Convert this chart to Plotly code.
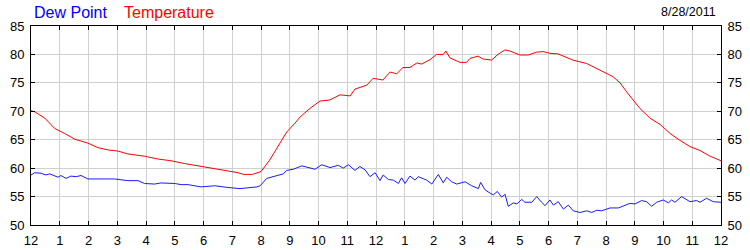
import plotly.graph_objects as go

# Hours since midnight (8/28/2011)
temp_hours = [0.0, 0.13, 0.48, 0.82, 1.17, 1.52, 1.98, 2.33, 2.68, 3.03, 3.37, 3.95, 4.42, 4.87,
              5.35, 5.81, 6.26, 6.74, 6.96, 7.2, 7.4, 7.7, 8.0, 8.3, 8.66, 8.9, 9.18, 9.36, 9.7,
              10.05, 10.4, 10.75, 11.1, 11.27, 11.68, 11.9, 12.24, 12.49, 12.72, 12.94, 13.18,
              13.42, 13.59, 13.88, 14.11, 14.34, 14.43, 14.57, 14.92, 15.15, 15.27, 15.55, 15.72,
              16.02, 16.24, 16.49, 16.66, 17.01, 17.29, 17.59, 17.81, 18.05, 18.33, 18.85, 19.33,
              19.9, 20.24, 20.49, 20.72, 21.18, 21.53, 21.88, 22.23, 22.57, 22.92, 23.27, 23.62, 24.0]
temperature = [70.1, 69.9, 68.8, 67.0, 66.1, 65.1, 64.4, 63.6, 63.2, 63.0, 62.5, 62.1, 61.6, 61.3,
               60.8, 60.4, 60.0, 59.7, 59.4, 59.2, 58.9, 58.9, 59.4, 61.4, 64.4, 66.4, 67.9, 69.0, 70.5,
               71.8, 72.0, 72.9, 72.7, 73.9, 74.6, 75.8, 75.5, 76.9, 76.6, 77.7, 77.7,
               78.5, 78.3, 79.1, 80.0, 80.0, 80.6, 79.4, 78.6, 78.6, 79.3, 79.7, 79.2,
               79.0, 80.0, 80.8, 80.6, 79.9, 79.9, 80.4, 80.5, 80.2, 80.1, 79.0, 78.4,
               77.0, 76.1, 75.0, 73.4, 70.5, 68.8, 67.7, 66.1, 64.9, 63.8, 63.1, 62.1, 61.3]

dew_hours = [0.0, 0.13, 0.35, 0.52, 0.65, 0.82, 0.94, 1.04, 1.22, 1.39, 1.57, 1.74, 1.98, 2.43,
             2.91, 3.37, 3.72, 3.95, 4.3, 4.52, 5.0, 5.22, 5.46, 5.91, 6.39, 6.85, 7.2, 7.27, 7.85,
             7.97, 8.2, 8.43, 8.78, 8.89, 9.12, 9.42, 9.7, 9.88, 10.11, 10.4, 10.69, 10.86, 11.04,
             11.27, 11.44, 11.62, 11.79, 11.97, 12.14, 12.25, 12.43, 12.6, 12.78, 12.89, 13.01,
             13.18, 13.36, 13.47, 13.76, 13.94, 14.17, 14.34, 14.46, 14.63, 14.81, 15.1, 15.33,
             15.56, 15.64, 15.79, 15.97, 16.08, 16.22, 16.37, 16.49, 16.6, 16.78, 16.9, 17.07,
             17.18, 17.42, 17.59, 17.76, 17.88, 18.05, 18.17, 18.34, 18.52, 18.69, 18.86, 19.1,
             19.33, 19.5, 19.68, 19.85, 20.14, 20.43, 20.72, 20.83, 21.01, 21.24, 21.41, 21.59,
             21.76, 21.99, 22.17, 22.28, 22.4, 22.63, 22.92, 23.15, 23.27, 23.5, 23.73, 24.0]
dew_point = [58.8, 59.2, 59.1, 58.8, 59.0, 58.6, 58.4, 58.7, 58.2, 58.6, 58.5, 58.7, 58.1, 58.1,
             58.1, 57.8, 57.8, 57.3, 57.2, 57.4, 57.3, 57.1, 57.1, 56.7, 56.9, 56.6, 56.5, 56.4, 56.7,
             56.9, 58.2, 58.5, 59.0, 59.6, 59.8, 60.4, 60.1, 59.8, 60.6, 60.1, 60.5, 60.0, 60.6,
             59.6, 60.3, 59.7, 58.5, 59.2, 57.8, 58.8, 58.0, 57.9, 57.3, 58.3, 57.3,
             58.6, 57.9, 58.5, 57.9, 57.2, 58.9, 57.4, 58.4, 57.6, 57.2, 57.6, 56.9,
             56.4, 57.5, 56.2, 55.6, 55.3, 55.9, 54.9, 55.4, 53.3, 53.9, 53.7, 54.5,
             54.0, 54.0, 55.0, 54.0, 53.4, 54.4, 53.5, 54.1, 52.8, 53.5, 52.5, 52.2,
             52.5, 52.2, 52.6, 52.5, 53.0, 53.0, 53.5, 53.8, 53.7, 54.3, 54.1, 53.3,
             54.0, 54.4, 53.9, 54.4, 54.0, 55.0, 54.1, 54.3, 54.0, 54.7, 54.1, 54.0]

tick_hours = list(range(0, 25))
tick_labels = ["12", "1", "2", "3", "4", "5", "6", "7", "8", "9", "10", "11",
               "12", "1", "2", "3", "4", "5", "6", "7", "8", "9", "10", "11", "12"]
y_ticks = [50, 55, 60, 65, 70, 75, 80, 85]

FONT = "Liberation Sans, Arial, sans-serif"

fig = go.Figure()
fig.add_trace(go.Scatter(x=dew_hours, y=dew_point, mode="lines", name="Dew Point",
                         line=dict(color="#1a1aff", width=1), yaxis="y"))
fig.add_trace(go.Scatter(x=temp_hours, y=temperature, mode="lines", name="Temperature",
                         line=dict(color="#ff0000", width=1), yaxis="y2"))

axis_common = dict(showline=True, linecolor="black", linewidth=1, ticks="inside", ticklen=4,
                   tickcolor="black", tickwidth=1, zeroline=False, automargin=False,
                   tickfont=dict(family=FONT, size=13, color="black"))

fig.update_layout(
    width=750, height=250,
    margin=dict(l=31, r=29, t=26, b=25),
    paper_bgcolor="white", plot_bgcolor="white",
    showlegend=False,
    xaxis=dict(range=[0, 24], tickmode="array", tickvals=tick_hours, ticktext=tick_labels,
               showgrid=True, gridcolor="#d0d0d0", gridwidth=1, mirror="ticks",
               ticklabelstandoff=3, **axis_common),
    yaxis=dict(range=[50, 85], tickmode="array", tickvals=y_ticks,
               showgrid=True, gridcolor="#d0d0d0", gridwidth=1, side="left",
               ticklabelstandoff=3, **axis_common),
    yaxis2=dict(range=[50, 85], tickmode="array", tickvals=y_ticks, overlaying="y", side="right",
                showgrid=False, ticklabelstandoff=3, **axis_common),
    annotations=[
        dict(text="Dew Point", x=0, y=1, xref="paper", yref="paper", xanchor="left",
             yanchor="middle", xshift=1, yshift=14, showarrow=False,
             font=dict(family=FONT, size=16, color="#0000ff")),
        dict(text="Temperature", x=0, y=1, xref="paper", yref="paper", xanchor="left",
             yanchor="middle", xshift=91, yshift=14, showarrow=False,
             font=dict(family=FONT, size=16, color="#ff0000")),
        dict(text="8/28/2011", x=1, y=1, xref="paper", yref="paper", xanchor="right",
             yanchor="middle", xshift=-3, yshift=14, showarrow=False,
             font=dict(family=FONT, size=12.5, color="black")),
    ],
)

fig.write_html("out.html")
